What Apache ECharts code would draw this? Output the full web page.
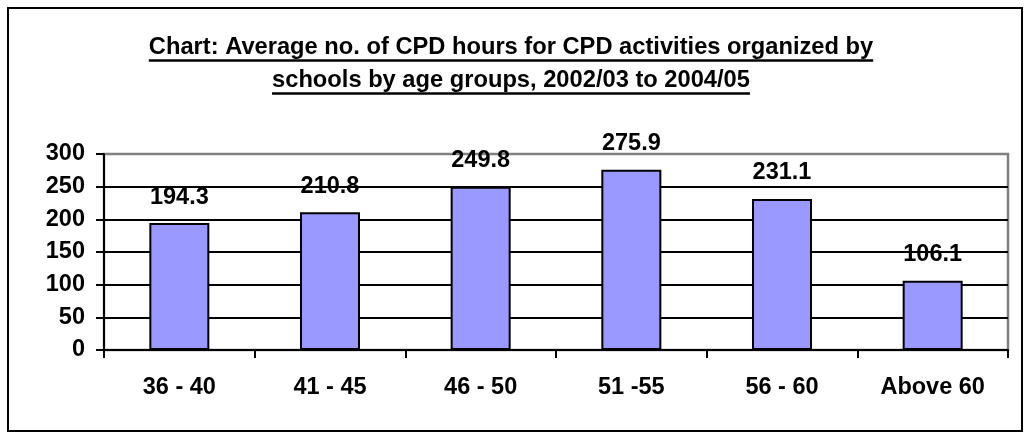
<!DOCTYPE html>
<html>
<head>
<meta charset="utf-8">
<script src="https://cdn.jsdelivr.net/npm/echarts@6/dist/echarts.min.js"></script>
<style>
html,body{margin:0;padding:0;background:#fff;}
#chart{width:1031px;height:439px;}
</style>
</head>
<body>
<div id="chart"></div>
<script>
const categories = ['36 - 40', '41 - 45', '46 - 50', '51 -55', '56 - 60', 'Above 60'];
const values = [194.3, 210.8, 249.8, 275.9, 231.1, 106.1];
const yTicks = [0, 50, 100, 150, 200, 250, 300];
const titleLines = [
  'Chart: Average no. of CPD hours for CPD activities organized by',
  'schools by age groups, 2002/03 to 2004/05'
];

const FONT = '"Liberation Sans", Arial, sans-serif';
const FS = 23.5;
const TFS = 23.7;

function textWidth(t) {
  const c = document.createElement('canvas').getContext('2d');
  c.font = 'bold ' + TFS + 'px ' + FONT;
  return c.measureText(t).width;
}

const chart = echarts.init(document.getElementById('chart'), null, {renderer: 'canvas'});

const titleCx = 511;
const titleY = [47, 80];
const underlineY = [60.5, 93.5];
const graphics = [
  {
    type: 'rect', silent: true, z: 0,
    shape: {x: 8, y: 8, width: 1014, height: 423},
    style: {fill: 'none', stroke: '#000', lineWidth: 2}
  }
];
titleLines.forEach((t, i) => {
  const w = textWidth(t);
  graphics.push({
    type: 'text', silent: true,
    x: titleCx, y: titleY[i],
    style: {
      text: t, fill: '#000', font: 'bold ' + TFS + 'px ' + FONT,
      align: 'center', verticalAlign: 'middle'
    }
  });
  graphics.push({
    type: 'line', silent: true,
    shape: {x1: titleCx - w / 2, y1: underlineY[i], x2: titleCx + w / 2, y2: underlineY[i]},
    style: {stroke: '#000', lineWidth: 2.5}
  });
});

const splitColors = yTicks.map((v, i) => i === yTicks.length - 1 ? 'rgba(0,0,0,0)' : '#000');

chart.setOption({
  animation: false,
  backgroundColor: '#fff',
  graphic: graphics,
  grid: {
    left: 104, top: 154, right: 23, bottom: 89,
    show: true, borderColor: '#808080', borderWidth: 2.5,
    backgroundColor: 'transparent',
    containLabel: false, outerBoundsMode: 'none'
  },
  xAxis: {
    type: 'category',
    data: categories,
    boundaryGap: true,
    axisLine: {show: true, lineStyle: {color: '#000', width: 2}},
    axisTick: {show: true, length: 8, lineStyle: {color: '#000', width: 2}, alignWithLabel: false},
    axisLabel: {color: '#000', fontFamily: FONT, fontWeight: 'bold', fontSize: FS, margin: 26, interval: 0},
    splitLine: {show: false}
  },
  yAxis: {
    type: 'value',
    min: yTicks[0], max: yTicks[yTicks.length - 1], interval: yTicks[1] - yTicks[0],
    axisLine: {show: true, lineStyle: {color: '#000', width: 2}},
    axisTick: {show: true, length: 8, lineStyle: {color: '#000', width: 2}},
    axisLabel: {color: '#000', fontFamily: FONT, fontWeight: 'bold', fontSize: FS, margin: 19},
    splitLine: {show: true, lineStyle: {color: splitColors, width: 2}}
  },
  series: [{
    type: 'bar',
    data: values,
    barWidth: 60,
    itemStyle: {color: '#9999FF', borderColor: '#000', borderWidth: 2},
    label: {
      show: true, position: 'top', distance: 14,
      color: '#000', fontFamily: FONT, fontWeight: 'bold', fontSize: FS,
      formatter: p => p.value.toFixed(1)
    }
  }]
});
</script>
</body>
</html>
